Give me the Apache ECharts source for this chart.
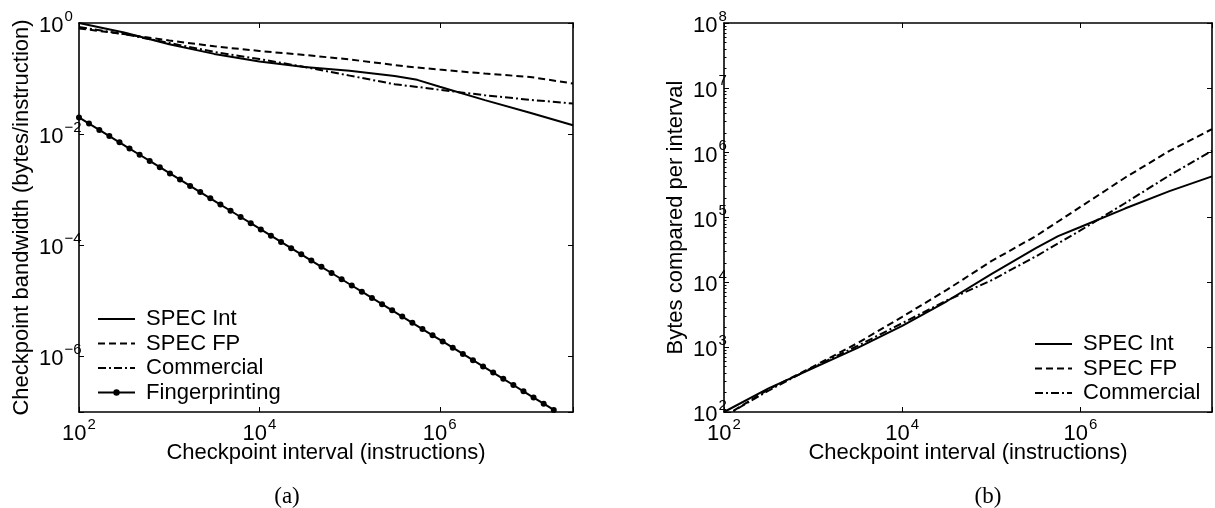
<!DOCTYPE html>
<html>
<head>
<meta charset="utf-8">
<title>Checkpoint interval</title>
<script src="https://cdn.jsdelivr.net/npm/echarts@6/dist/echarts.min.js"></script>
<style>
  html, body { margin: 0; padding: 0; background: #fff; }
  #chart { width: 1215px; height: 508px; }
</style>
</head>
<body>
<div id="chart"></div>
<script>
// checkpoint interval samples (instructions), shared by the three workload curves
var intervals = [100, 316, 1000, 3162, 10000, 31623, 100000, 316228, 562341, 1000000, 3162278, 10000000, 30000000];

// (a) checkpoint bandwidth, bytes/instruction
var specIntBw    = [1, 0.676, 0.414, 0.278, 0.203, 0.162, 0.138, 0.111, 0.0948, 0.0713, 0.041, 0.0243, 0.0145];
var specFpBw     = [0.80, 0.631, 0.484, 0.380, 0.314, 0.266, 0.221, 0.175, 0.158, 0.145, 0.123, 0.107, 0.0815];
var commercialBw = [0.85, 0.63, 0.437, 0.302, 0.224, 0.162, 0.113, 0.079, 0.0708, 0.0628, 0.0501, 0.0415, 0.0356];

// fingerprinting markers
var fpIntervals = [100, 129, 168, 217, 281, 363, 470, 608, 787, 1019, 1318, 1706, 2208, 2858, 3698, 4786,
  6194, 8017, 10375, 13428, 17378, 22491, 29107, 37670, 48753, 63096, 81658, 105682, 136773, 177011,
  229087, 296483, 383707, 496592, 642688, 831764, 1076465, 1393157, 1803018, 2333458, 3019952,
  3908409, 5058247, 6546361, 8472274, 10964782, 14190575, 18365383];
var fpBw = [0.02, 0.0155, 0.0119, 0.00922, 0.00712, 0.00551, 0.00426, 0.00329, 0.00254, 0.00196,
  0.00152, 0.00117, 9.06e-4, 7.0e-4, 5.41e-4, 4.18e-4, 3.23e-4, 2.5e-4, 1.93e-4, 1.49e-4, 1.15e-4,
  8.89e-5, 6.87e-5, 5.31e-5, 4.1e-5, 3.17e-5, 2.45e-5, 1.89e-5, 1.46e-5, 1.13e-5, 8.73e-6, 6.75e-6,
  5.21e-6, 4.03e-6, 3.11e-6, 2.4e-6, 1.86e-6, 1.44e-6, 1.11e-6, 8.57e-7, 6.62e-7, 5.12e-7, 3.95e-7,
  3.06e-7, 2.36e-7, 1.82e-7, 1.41e-7, 1.09e-7];

// (b) bytes compared per interval
var specIntBytes    = [100, 232, 475, 973, 2123, 5105, 13397, 33651, 51642, 71450, 137404, 254683, 431519];
var specFpBytes     = [85, 224, 501, 1159, 2938, 7638, 21184, 51642, 86696, 145546, 410204, 1066596, 2306747];
var commercialBytes = [85, 214, 490, 1047, 2344, 5248, 10715, 25119, 39811, 63096, 165959, 446684, 1071519];

var FONT = '"Liberation Sans", Arial, Helvetica, sans-serif';
var DASH = [7, 4];
var DASHDOT = [8, 3, 2, 3];

// "10" with a raised exponent
var rich = {
  b: { fontSize: 22, fontFamily: FONT, color: '#000', lineHeight: 28, verticalAlign: 'bottom' },
  s: { fontSize: 15, fontFamily: FONT, color: '#000', lineHeight: 14, verticalAlign: 'top', padding: [0, 0, 0, 1] }
};

function powLabel(e) {
  return '{b|10}{s|' + (e < 0 ? '\u2212' + (-e) : e) + '}';
}
// label only integer exponents that are multiples of step
function logLabel(step) {
  return function (v) {
    var e = Math.log10(v), r = Math.round(e);
    if (Math.abs(e - r) > 1e-6 || r % step !== 0) return '';
    return powLabel(r);
  };
}

var frame = { show: true, onZero: false, lineStyle: { color: '#000', width: 1.6 } };
var ticks = { show: true, inside: true, length: 5, lineStyle: { color: '#000', width: 1 } };
var nameStyle = { fontSize: 22, fontFamily: FONT, color: '#000' };

function xLog(grid, pos) {
  var ax = {
    type: 'log', logBase: 10, gridIndex: grid, position: pos, min: 100, max: 3e7, interval: 2,
    axisLine: frame, axisTick: ticks, splitLine: { show: false }, axisLabel: { show: false }
  };
  if (pos === 'bottom') {
    ax.axisLabel = { show: true, margin: 5, formatter: logLabel(2), rich: rich };
    ax.name = 'Checkpoint interval (instructions)';
    ax.nameLocation = 'middle';
    ax.nameGap = 30;
    ax.nameMoveOverlap = false;
    ax.nameTextStyle = nameStyle;
  }
  return ax;
}

function curve(name, xs, ys, dash, xi, yi) {
  return {
    name: name, type: 'line', xAxisIndex: xi, yAxisIndex: yi,
    data: xs.map(function (x, i) { return [x, ys[i]]; }),
    symbol: 'none', silent: true,
    lineStyle: { color: '#000', width: 2, type: dash },
    itemStyle: { color: '#000' }
  };
}

// legend entries without a marker
function plain(name) {
  return { name: name, itemStyle: { opacity: 0 } };
}

var legendBase = {
  orient: 'vertical', padding: 0, itemWidth: 37, itemHeight: 8, itemGap: 2.5,
  selectedMode: false, formatter: function (n) { return ' ' + n; },
  textStyle: { fontSize: 22, fontFamily: FONT, color: '#000' }
};

var chart = echarts.init(document.getElementById('chart'), null, { renderer: 'canvas' });

chart.setOption({
  animation: false,
  backgroundColor: '#fff',
  grid: [
    { left: 79, top: 23, width: 494, height: 389 },
    { left: 724, top: 23, width: 493, height: 389 }
  ],
  xAxis: [xLog(0, 'bottom'), xLog(0, 'top'), xLog(1, 'bottom'), xLog(1, 'top')],
  yAxis: [
    // (a) data axis
    {
      type: 'log', logBase: 10, gridIndex: 0, position: 'left', min: 1e-7, max: 1,
      axisLine: frame, axisTick: { show: false }, axisLabel: { show: false }, splitLine: { show: false },
      name: 'Checkpoint bandwidth (bytes/instruction)', nameLocation: 'middle', nameGap: 46,
      nameMoveOverlap: false, nameTextStyle: nameStyle
    },
    // (a) exponent scale for ticks every two decades
    {
      type: 'value', gridIndex: 0, position: 'left', min: -7, max: 0, splitNumber: 4,
      axisLine: { show: false }, axisTick: ticks, splitLine: { show: false },
      axisLabel: {
        show: true, align: 'left', margin: 40, rich: rich,
        formatter: function (v) { return v === -7 ? '' : powLabel(v); }
      }
    },
    {
      type: 'value', gridIndex: 0, position: 'right', min: -7, max: 0, splitNumber: 4,
      axisLine: frame, axisTick: ticks, splitLine: { show: false }, axisLabel: { show: false }
    },
    // (b)
    {
      type: 'log', logBase: 10, gridIndex: 1, position: 'left', min: 100, max: 1e8, interval: 1,
      axisLine: frame, axisTick: ticks, splitLine: { show: false },
      minorTick: { show: true, splitNumber: 9, length: 2.5, lineStyle: { color: '#000', width: 1 } },
      axisLabel: { show: true, align: 'left', margin: 31, rich: rich, formatter: logLabel(1) },
      name: 'Bytes compared per interval', nameLocation: 'middle', nameGap: 37,
      nameMoveOverlap: false, nameTextStyle: nameStyle
    },
    {
      type: 'log', logBase: 10, gridIndex: 1, position: 'right', min: 100, max: 1e8, interval: 1,
      axisLine: frame, axisTick: ticks, splitLine: { show: false }, axisLabel: { show: false }
    }
  ],
  legend: [
    Object.assign({
      data: [plain('SPEC Int'), plain('SPEC FP'), plain('Commercial'), 'Fingerprinting'],
      left: 97, top: 308
    }, legendBase),
    Object.assign({
      data: [plain('SPEC Int'), plain('SPEC FP'), plain('Commercial')],
      left: 1034, top: 333
    }, legendBase)
  ],
  series: [
    curve('SPEC Int', intervals, specIntBw, 'solid', 0, 0),
    curve('SPEC FP', intervals, specFpBw, DASH, 0, 0),
    curve('Commercial', intervals, commercialBw, DASHDOT, 0, 0),
    {
      name: 'Fingerprinting', type: 'line', xAxisIndex: 0, yAxisIndex: 0,
      data: fpIntervals.map(function (x, i) { return [x, fpBw[i]]; }),
      symbol: 'circle', symbolSize: 6, showAllSymbol: true, silent: true,
      lineStyle: { color: '#000', width: 2 }, itemStyle: { color: '#000' }
    },
    curve('SPEC Int', intervals, specIntBytes, 'solid', 2, 3),
    curve('SPEC FP', intervals, specFpBytes, DASH, 2, 3),
    curve('Commercial', intervals, commercialBytes, DASHDOT, 2, 3)
  ],
  graphic: [
    { type: 'text', x: 287, y: 497, style: { text: '(a)', font: '23px "Liberation Serif", serif', fill: '#000', align: 'center', verticalAlign: 'middle' } },
    { type: 'text', x: 988, y: 497, style: { text: '(b)', font: '23px "Liberation Serif", serif', fill: '#000', align: 'center', verticalAlign: 'middle' } }
  ]
});
</script>
</body>
</html>
